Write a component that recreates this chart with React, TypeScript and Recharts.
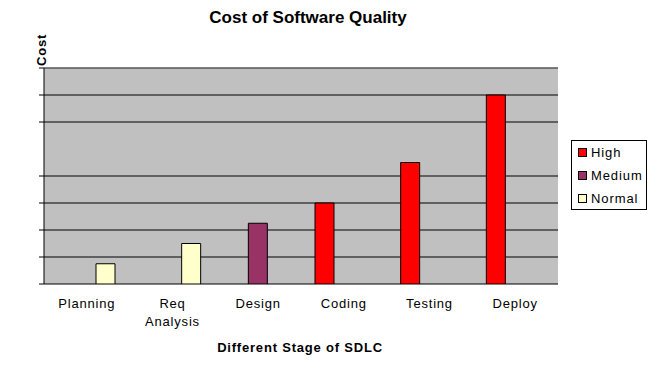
import {
  BarChart,
  Bar,
  XAxis,
  YAxis,
  CartesianGrid,
  ReferenceLine,
} from 'recharts';

const stages = ['Planning', 'Req\nAnalysis', 'Design', 'Coding', 'Testing', 'Deploy'];
const highValues = [0, 0, 0, 3, 4.5, 7];
const mediumValues = [0, 0, 2.25, 0, 0, 0];
const normalValues = [0.75, 1.5, 0, 0, 0, 0];
const yTicks = [0, 1, 2, 3, 4, 6, 7, 8];
const edgeTicks = [0, 1, 2, 3, 4, 5, 6];

const seriesList = [
  { key: 'high', name: 'High', color: '#ff0000' },
  { key: 'medium', name: 'Medium', color: '#993366' },
  { key: 'normal', name: 'Normal', color: '#ffffcc' },
];

const data = stages.map((stage, i) => ({
  stage,
  high: highValues[i] || null,
  medium: mediumValues[i] || null,
  normal: normalValues[i] || null,
}));

const FONT = '"Liberation Sans", Arial, sans-serif';

const StageTick = (props: any) => {
  const { x, y, payload } = props;
  const lines = String(payload.value).split('\n');
  return (
    <text x={x} y={y + 16} textAnchor="middle" fontFamily={FONT} fontSize={13} letterSpacing={0.8} fill="#000">
      {lines.map((line: string, i: number) => (
        <tspan key={i} x={x} dy={i === 0 ? 0 : 18}>
          {line}
        </tspan>
      ))}
    </text>
  );
};

// tick marks only, no labels
const NoLabel = () => <g />;

const App = () => {
  return (
    <div style={{ position: 'absolute', left: 0, top: 0, width: 651, height: 367, background: '#fff', fontFamily: FONT }}>
      <div style={{ position: 'absolute', left: 0, top: 8, width: 616, textAlign: 'center', fontSize: 17, fontWeight: 'bold' }}>
        Cost of Software Quality
      </div>
      <div
        style={{
          position: 'absolute',
          left: 34,
          top: 66,
          transform: 'rotate(-90deg)',
          transformOrigin: 'left top',
          fontSize: 13,
          fontWeight: 'bold',
          letterSpacing: 0.8,
        }}
      >
        Cost
      </div>
      <div style={{ position: 'absolute', left: 0, top: 340, width: 600, textAlign: 'center', fontSize: 13, fontWeight: 'bold', letterSpacing: 0.8 }}>
        Different Stage of SDLC
      </div>

      <BarChart
        width={651}
        height={367}
        data={data}
        margin={{ top: 68, right: 93, left: 34, bottom: 0 }}
        barCategoryGap={14}
        barGap={0}
      >
        <CartesianGrid vertical={false} fill="#c0c0c0" stroke="#000" strokeOpacity={1} />
        <XAxis
          xAxisId="edges"
          type="number"
          domain={[0, 6]}
          ticks={edgeTicks}
          height={0}
          tick={NoLabel}
          tickSize={5}
          stroke="#000"
          allowDataOverflow
        />
        <XAxis dataKey="stage" height={83} axisLine={false} tickLine={false} tick={<StageTick />} interval={0} />
        <YAxis width={10} domain={[0, 8]} ticks={yTicks} tick={NoLabel} tickSize={5} stroke="#000" allowDataOverflow />
        <ReferenceLine y={8} stroke="#808080" />
        <ReferenceLine xAxisId="edges" x={6} stroke="#808080" />
        {seriesList.map((s) => (
          <Bar
            key={s.key}
            dataKey={s.key}
            name={s.name}
            fill={s.color}
            stroke="#000"
            strokeWidth={1}
            isAnimationActive={false}
          />
        ))}
      </BarChart>

      <div
        style={{
          position: 'absolute',
          left: 571,
          top: 140,
          width: 74,
          height: 68,
          border: '1px solid #000',
          background: '#fff',
          fontSize: 13,
          letterSpacing: 0.9,
        }}
      >
        {seriesList.map((s, i) => (
          <div key={s.key} style={{ position: 'absolute', left: 6, top: 4 + i * 23, display: 'flex', alignItems: 'center', whiteSpace: 'nowrap' }}>
            <span style={{ width: 7, height: 7, background: s.color, border: '1px solid #000', display: 'inline-block', marginRight: 4 }} />
            <span>{s.name}</span>
          </div>
        ))}
      </div>
    </div>
  );
};

export default App;
